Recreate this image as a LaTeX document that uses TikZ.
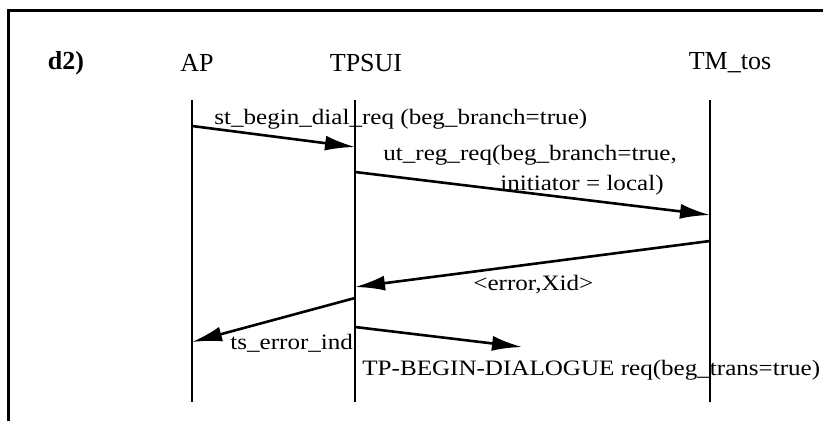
\documentclass[tikz,border=0pt]{standalone}
\usepackage{fontspec}
\setmainfont{Liberation Serif}
\newfontfamily\lblfont[FakeStretch=1.14]{Liberation Serif}
\usetikzlibrary{arrows.meta}
\tikzset{>={Latex[length=15pt,width=7.5pt]}}

\begin{document}
\begin{tikzpicture}[x=0.5pt,y=-0.5pt,
  lifeline/.style={line width=1.1pt},
  msg/.style={line width=1.3pt,->},
  head/.style={font=\fontsize{13}{15}\selectfont,inner sep=0pt},
  lbl/.style={font=\lblfont\fontsize{11}{13}\selectfont,inner sep=0pt,anchor=west}]

\useasboundingbox (0,0) rectangle (823,421);

\def\xAP{192}
\def\xTP{355}
\def\xTM{710}
\def\yTop{100}
\def\yBot{402}

% frame:
\draw[line width=1.5pt] (8,421) -- (8,11) -- (823,11);

% headers:
\node[head,font=\fontsize{13}{15}\selectfont\bfseries] (case) at (66,63) {d2)};
\node[head] (ap) at (197,63) {AP};
\node[head] (tpsui) at (366,63) {TPSUI};
\node[head] (tmtos) at (730,63) {TM\_tos};

% lifelines:
\coordinate (apTop) at (\xAP,\yTop);
\coordinate (apBot) at (\xAP,\yBot);
\coordinate (tpTop) at (\xTP,\yTop);
\coordinate (tpBot) at (\xTP,\yBot);
\coordinate (tmTop) at (\xTM,\yTop);
\coordinate (tmBot) at (\xTM,\yBot);
\draw[lifeline] (apTop) -- (apBot);
\draw[lifeline] (tpTop) -- (tpBot);
\draw[lifeline] (tmTop) -- (tmBot);

% messages:
\coordinate (m1s) at (\xAP,126);
\coordinate (m1e) at (\xTP,147);
\draw[msg] (m1s) -- (m1e);
\node[lbl] (m1lbl) at (214,119) {st\_begin\_dial\_req (beg\_branch=true)};

\coordinate (m2s) at (\xTP,172);
\coordinate (m2e) at (\xTM,215);
\draw[msg] (m2s) -- (m2e);
\node[lbl] (m2lblA) at (383,155) {ut\_reg\_req(beg\_branch=true,};
\node[lbl] (m2lblB) at (500,185) {initiator = local)};

\coordinate (m3s) at (\xTM,241);
\coordinate (m3e) at (\xTP,287);
\draw[msg] (m3s) -- (m3e);
\node[lbl] (m3lbl) at (473,285) {<error,Xid>};

\coordinate (m4s) at (\xTP,298);
\coordinate (m4e) at (\xAP,342);
\draw[msg] (m4s) -- (m4e);
\node[lbl] (m4lbl) at (230,343) {ts\_error\_ind};

\coordinate (m5s) at (\xTP,327);
\coordinate (m5e) at (522,347);
\draw[msg] (m5s) -- (m5e);
\node[lbl] (m5lbl) at (362,370) {TP-BEGIN-DIALOGUE req(beg\_trans=true)};

\end{tikzpicture}
\end{document}
